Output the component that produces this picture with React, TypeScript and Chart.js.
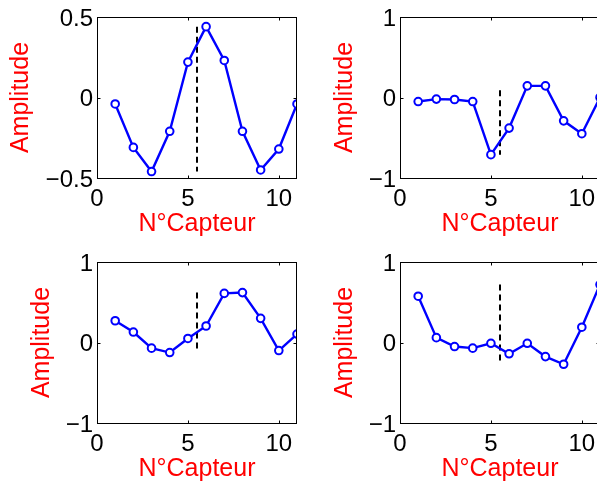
import React, { useEffect, useRef } from 'react';
import { Chart, registerables } from 'chart.js';

Chart.register(...registerables);

// ---- data ----
const sensors = [1, 2, 3, 4, 5, 6, 7, 8, 9, 10, 11];
const ampTopLeft = [-0.04, -0.31, -0.46, -0.21, 0.22, 0.44, 0.23, -0.21, -0.45, -0.32, -0.04];
const ampTopRight = [-0.05, -0.02, -0.025, -0.05, -0.71, -0.38, 0.145, 0.145, -0.29, -0.45, 0.0];
const ampBottomLeft = [0.27, 0.13, -0.07, -0.125, 0.05, 0.205, 0.61, 0.62, 0.3, -0.1, 0.105];
const ampBottomRight = [0.575, 0.06, -0.05, -0.07, -0.01, -0.14, -0.01, -0.175, -0.27, 0.19, 0.72];

const markerX = 5.5;
const markerTopLeft = [0.44, -0.46];
const markerTopRight = [0.09, -0.71];
const markerBottomLeft = [0.62, -0.125];
const markerBottomRight = [0.72, -0.27];

const xTicks = [0, 5, 10];
const xRange = [0, 11];
const yTicksSmall = [-0.5, 0, 0.5];
const yTicksLarge = [-1, 0, 1];

const xTitle = 'N°Capteur';
const yTitle = 'Amplitude';

const FONT = '"Liberation Sans", Arial, Helvetica, sans-serif';

const framePlugin = {
  id: 'frame',
  afterDraw(chart: any) {
    const { ctx, chartArea: a } = chart;
    const xs = chart.scales.x;
    const ys = chart.scales.y;
    const L = Math.round(a.left) + 0.5;
    const R = Math.round(a.right) - 0.5;
    const T = Math.round(a.top) + 0.5;
    const B = Math.round(a.bottom) + 0.5;
    ctx.save();
    ctx.strokeStyle = '#000';
    ctx.lineWidth = 1;
    ctx.strokeRect(L, T, R - L, B - T);
    ctx.beginPath();
    const tl = 3;
    xs.ticks.forEach((t: any) => {
      const px = Math.round(xs.getPixelForValue(t.value)) + 0.5;
      ctx.moveTo(px, B);
      ctx.lineTo(px, B - tl);
      ctx.moveTo(px, T);
      ctx.lineTo(px, T + tl);
    });
    ys.ticks.forEach((t: any) => {
      const py = Math.round(ys.getPixelForValue(t.value)) + 0.5;
      ctx.moveTo(L, py);
      ctx.lineTo(L + tl, py);
      ctx.moveTo(R, py);
      ctx.lineTo(R - tl, py);
    });
    ctx.stroke();
    ctx.restore();
  },
};

type PanelProps = {
  left: number;
  top: number;
  values: number[];
  marker: number[];
  yTicks: number[];
  titlePad: number;
};

function Panel({ left, top, values, marker, yTicks, titlePad }: PanelProps) {
  const ref = useRef<HTMLCanvasElement>(null);
  useEffect(() => {
    const fmt = (v: any) => String(v).replace('-', '\u2212');
    const chart = new Chart(ref.current as HTMLCanvasElement, {
      type: 'line',
      data: {
        datasets: [
          {
            data: sensors.map((s, i) => ({ x: s, y: values[i] })),
            borderColor: '#0000ff',
            borderWidth: 2.4,
            pointRadius: 3.8,
            pointBorderWidth: 2,
            pointBorderColor: '#0000ff',
            pointBackgroundColor: '#ffffff',
            tension: 0,
          },
          {
            data: marker.map((v) => ({ x: markerX, y: v })),
            borderColor: '#000000',
            borderWidth: 2,
            borderDash: [6, 4],
            pointRadius: 0,
          },
        ],
      },
      options: {
        responsive: false,
        animation: false,
        devicePixelRatio: 1,
        layout: { autoPadding: false, padding: { top: 17, right: 3, left: 0, bottom: 0 } },
        plugins: { legend: { display: false }, tooltip: { enabled: false } },
        scales: {
          x: {
            type: 'linear',
            min: xRange[0],
            max: xRange[1],
            grid: { display: false, drawTicks: false },
            border: { display: false },
            ticks: {
              color: '#000',
              font: { family: FONT, size: 24, lineHeight: 1.2 },
              padding: 6.5,
              maxRotation: 0,
              autoSkip: false,
              callback: fmt,
            },
            afterBuildTicks: (scale: any) => {
              scale.ticks = xTicks.map((v) => ({ value: v }));
            },
            afterFit: (scale: any) => {
              scale.height = 62;
              scale.paddingLeft = 0;
              scale.paddingRight = 0;
            },
            title: {
              display: true,
              text: xTitle,
              color: '#ff0000',
              font: { family: FONT, size: 25, lineHeight: 1.2 },
              padding: { top: 0, bottom: 1 },
            },
          },
          y: {
            type: 'linear',
            min: yTicks[0],
            max: yTicks[yTicks.length - 1],
            grid: { display: false, drawTicks: false },
            border: { display: false },
            ticks: {
              color: '#000',
              font: { family: FONT, size: 24, lineHeight: 1.2 },
              padding: 4,
              labelOffset: 2,
              autoSkip: false,
              callback: fmt,
            },
            afterBuildTicks: (scale: any) => {
              scale.ticks = yTicks.map((v) => ({ value: v }));
            },
            afterFit: (scale: any) => {
              scale.width = 97;
              scale.paddingTop = 0;
              scale.paddingBottom = 0;
            },
            title: {
              display: true,
              text: yTitle,
              color: '#ff0000',
              font: { family: FONT, size: 25, lineHeight: 1.2 },
              padding: { top: titlePad, bottom: 0 },
            },
          },
        },
      },
      plugins: [framePlugin],
    } as any);
    return () => chart.destroy();
  }, []);
  return (
    <canvas
      ref={ref}
      width={300}
      height={240}
      style={{ position: 'absolute', left, top, width: 300, height: 240 }}
    />
  );
}

export default function App() {
  return (
    <div
      style={{
        position: 'fixed',
        left: 0,
        top: 0,
        width: 597,
        height: 485,
        overflow: 'hidden',
        background: '#ffffff',
      }}
    >
      <Panel left={0} top={0} values={ampTopLeft} marker={markerTopLeft} yTicks={yTicksSmall} titlePad={6} />
      <Panel left={303} top={0} values={ampTopRight} marker={markerTopRight} yTicks={yTicksLarge} titlePad={27.5} />
      <Panel left={0} top={245} values={ampBottomLeft} marker={markerBottomLeft} yTicks={yTicksLarge} titlePad={27.5} />
      <Panel left={303} top={245} values={ampBottomRight} marker={markerBottomRight} yTicks={yTicksLarge} titlePad={27.5} />
    </div>
  );
}
